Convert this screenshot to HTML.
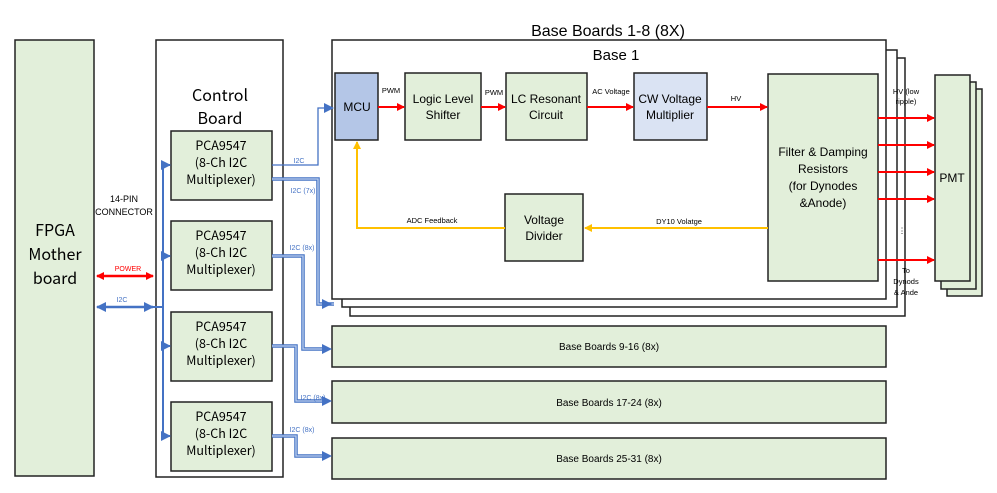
<!DOCTYPE html>
<html><head><meta charset="utf-8"><style>
html,body{margin:0;padding:0;background:#fff;}
svg{display:block;}
.c{font-family:"Liberation Sans",sans-serif;}
.k{font-family:"WenQuanYi Zen Hei","Noto Sans CJK SC",sans-serif;}
</style></head><body>
<svg width="997" height="493" viewBox="0 0 997 493" xmlns="http://www.w3.org/2000/svg">
<defs>
<marker id="ar" markerWidth="8" markerHeight="8" refX="7" refY="4" orient="auto" markerUnits="userSpaceOnUse"><path d="M0,0 L8,4 L0,8 z" fill="#ff0000"/></marker>
<marker id="ars" markerWidth="8" markerHeight="8" refX="1" refY="4" orient="auto" markerUnits="userSpaceOnUse"><path d="M8,0 L0,4 L8,8 z" fill="#ff0000"/></marker>
<marker id="ab" markerWidth="10" markerHeight="10" refX="9" refY="5" orient="auto" markerUnits="userSpaceOnUse"><path d="M0,0 L10,5 L0,10 z" fill="#4472c4"/></marker>
<marker id="abs" markerWidth="10" markerHeight="10" refX="1" refY="5" orient="auto" markerUnits="userSpaceOnUse"><path d="M10,0 L0,5 L10,10 z" fill="#4472c4"/></marker>
<marker id="ay" markerWidth="8" markerHeight="8" refX="7" refY="4" orient="auto" markerUnits="userSpaceOnUse"><path d="M0,0 L8,4 L0,8 z" fill="#ffc000"/></marker>
</defs>
<rect width="997" height="493" fill="#fff"/>
<!-- FPGA -->
<rect x="15" y="40" width="79" height="436" fill="#e2efda" stroke="#222" stroke-width="1.5"/>
<text class="k" font-size="16" text-anchor="middle"><tspan x="55" y="236">FPGA</tspan><tspan x="55" y="260">Mother</tspan><tspan x="55" y="284">board</tspan></text>
<!-- control board -->
<rect x="156" y="40" width="127" height="437" fill="#fff" stroke="#222" stroke-width="1.5"/>
<text class="k" font-size="16" text-anchor="middle"><tspan x="220" y="101">Control</tspan><tspan x="220" y="124">Board</tspan></text>
<text class="c" font-size="9" text-anchor="middle"><tspan x="124" y="202">14-PIN</tspan><tspan x="124" y="215">CONNECTOR</tspan></text>
<g class="k" font-size="12.5" text-anchor="middle">
<rect x="171" y="131" width="101" height="69" fill="#e2efda" stroke="#222" stroke-width="1.5"/>
<text><tspan x="221" y="150">PCA9547</tspan><tspan x="221" y="167">(8-Ch I2C</tspan><tspan x="221" y="184">Multiplexer)</tspan></text>
<rect x="171" y="221" width="101" height="69" fill="#e2efda" stroke="#222" stroke-width="1.5"/>
<text><tspan x="221" y="240">PCA9547</tspan><tspan x="221" y="257">(8-Ch I2C</tspan><tspan x="221" y="274">Multiplexer)</tspan></text>
<rect x="171" y="312" width="101" height="69" fill="#e2efda" stroke="#222" stroke-width="1.5"/>
<text><tspan x="221" y="331">PCA9547</tspan><tspan x="221" y="348">(8-Ch I2C</tspan><tspan x="221" y="365">Multiplexer)</tspan></text>
<rect x="171" y="402" width="101" height="69" fill="#e2efda" stroke="#222" stroke-width="1.5"/>
<text><tspan x="221" y="421">PCA9547</tspan><tspan x="221" y="438">(8-Ch I2C</tspan><tspan x="221" y="455">Multiplexer)</tspan></text>
</g>
<!-- power / i2c -->
<line x1="97" y1="276" x2="153" y2="276" stroke="#ff0000" stroke-width="2.5" marker-end="url(#ar)" marker-start="url(#ars)"/>
<text class="c" font-size="7" fill="#ff0000" x="128" y="271" text-anchor="middle">POWER</text>
<line x1="97" y1="307" x2="153" y2="307" stroke="#4472c4" stroke-width="2.5" marker-end="url(#ab)" marker-start="url(#abs)"/>
<text class="c" font-size="7" fill="#4472c4" x="122" y="302" text-anchor="middle">I2C</text>
<path d="M153,307 H163" stroke="#4472c4" stroke-width="2"/>
<line x1="163" y1="163" x2="163" y2="437" stroke="#4472c4" stroke-width="2"/>
<g stroke="#4472c4" stroke-width="2">
<line x1="163" y1="165" x2="170" y2="165" marker-end="url(#ab)"/>
<line x1="163" y1="256" x2="170" y2="256" marker-end="url(#ab)"/>
<line x1="163" y1="346" x2="170" y2="346" marker-end="url(#ab)"/>
<line x1="163" y1="436" x2="170" y2="436" marker-end="url(#ab)"/>
</g>
<!-- base stacks -->
<polyline points="350,307 350,316 905,316 905,58 886,58" fill="#fff" stroke="#222" stroke-width="1.5"/>
<polyline points="342,299 342,307 897,307 897,50 886,50" fill="#fff" stroke="#222" stroke-width="1.5"/>
<rect x="332" y="40" width="554" height="259" fill="#fff" stroke="#222" stroke-width="1.5"/>
<text class="c" font-size="16" x="608" y="36" text-anchor="middle">Base Boards 1-8 (8X)</text>
<text class="c" font-size="15" x="616" y="60" text-anchor="middle">Base 1</text>
<!-- blocks -->
<g class="c" font-size="12" text-anchor="middle">
<rect x="335" y="73" width="43" height="67" fill="#b4c6e7" stroke="#222" stroke-width="1.5"/>
<text x="357" y="111">MCU</text>
<rect x="405" y="73" width="76" height="67" fill="#e2efda" stroke="#222" stroke-width="1.5"/>
<text><tspan x="443" y="103">Logic Level</tspan><tspan x="443" y="119">Shifter</tspan></text>
<rect x="506" y="73" width="81" height="67" fill="#e2efda" stroke="#222" stroke-width="1.5"/>
<text><tspan x="546" y="103">LC Resonant</tspan><tspan x="546" y="119">Circuit</tspan></text>
<rect x="634" y="73" width="73" height="67" fill="#dae3f3" stroke="#222" stroke-width="1.5"/>
<text><tspan x="670" y="103">CW Voltage</tspan><tspan x="670" y="119">Multiplier</tspan></text>
<rect x="505" y="194" width="78" height="67" fill="#e2efda" stroke="#222" stroke-width="1.5"/>
<text><tspan x="544" y="224">Voltage</tspan><tspan x="544" y="240">Divider</tspan></text>
<rect x="768" y="74" width="110" height="207" fill="#e2efda" stroke="#222" stroke-width="1.5"/>
<text><tspan x="823" y="156">Filter &amp; Damping</tspan><tspan x="823" y="173">Resistors</tspan><tspan x="823" y="190">(for Dynodes</tspan><tspan x="823" y="207">&amp;Anode)</tspan></text>
</g>
<g stroke="#ff0000" stroke-width="2">
<line x1="378" y1="107" x2="404" y2="107" marker-end="url(#ar)"/>
<line x1="481" y1="107" x2="505" y2="107" marker-end="url(#ar)"/>
<line x1="587" y1="107" x2="633" y2="107" marker-end="url(#ar)"/>
<line x1="707" y1="107" x2="767" y2="107" marker-end="url(#ar)"/>
</g>
<g class="c" font-size="7.5" text-anchor="middle">
<text x="391" y="93">PWM</text><text x="494" y="95">PWM</text><text x="611" y="94">AC Voltage</text><text x="736" y="101">HV</text>
<text x="432" y="223">ADC Feedback</text><text x="679" y="224">DY10 Volatge</text>
</g>
<polyline points="768,228 585,228" fill="none" stroke="#ffc000" stroke-width="2" marker-end="url(#ay)"/>
<polyline points="505,228 357,228 357,142" fill="none" stroke="#ffc000" stroke-width="2" marker-end="url(#ay)"/>
<!-- PMT -->
<rect x="947" y="89" width="35" height="207" fill="#e2efda" stroke="#222" stroke-width="1.5"/>
<rect x="941" y="82" width="35" height="207" fill="#e2efda" stroke="#222" stroke-width="1.5"/>
<rect x="935" y="75" width="35" height="206" fill="#e2efda" stroke="#222" stroke-width="1.5"/>
<text class="c" font-size="12" x="952" y="182" text-anchor="middle">PMT</text>
<g stroke="#ff0000" stroke-width="2">
<line x1="878" y1="118" x2="934" y2="118" marker-end="url(#ar)"/>
<line x1="878" y1="145" x2="934" y2="145" marker-end="url(#ar)"/>
<line x1="878" y1="172" x2="934" y2="172" marker-end="url(#ar)"/>
<line x1="878" y1="199" x2="934" y2="199" marker-end="url(#ar)"/>
<line x1="878" y1="260" x2="934" y2="260" marker-end="url(#ar)"/>
</g>
<g class="c" font-size="7.5" text-anchor="middle">
<text x="906" y="94">HV (low</text><text x="906" y="104">ripple)</text>
<text x="902" y="233">⋮</text>
<text x="906" y="273">To</text><text x="906" y="284">Dynods</text><text x="906" y="295">&amp; Ande</text>
</g>
<!-- other base boards -->
<g class="c" font-size="10" text-anchor="middle">
<rect x="332" y="326" width="554" height="41" fill="#e2efda" stroke="#222" stroke-width="1.5"/>
<text x="609" y="350">Base Boards 9-16 (8x)</text>
<rect x="332" y="381" width="554" height="42" fill="#e2efda" stroke="#222" stroke-width="1.5"/>
<text x="609" y="406">Base Boards 17-24 (8x)</text>
<rect x="332" y="438" width="554" height="41" fill="#e2efda" stroke="#222" stroke-width="1.5"/>
<text x="609" y="462">Base Boards 25-31 (8x)</text>
</g>
<!-- I2C links -->
<polyline points="272,165 318,165 318,108 333,108" fill="none" stroke="#4472c4" stroke-width="1.3" marker-end="url(#ab)"/>
<g fill="none" stroke-width="3.5">
<polyline points="272,179 318,179 318,304 334,304" stroke="#4472c4"/>
<polyline points="272,256 303,256 303,349 324,349" stroke="#4472c4"/>
<polyline points="272,346 296,346 296,401 324,401" stroke="#4472c4"/>
<polyline points="272,436 296,436 296,456 324,456" stroke="#4472c4"/>
</g>
<g fill="none" stroke-width="1.3">
<polyline points="272,179 318,179 318,304 334,304" stroke="#bdd0ee"/>
<polyline points="272,256 303,256 303,349 324,349" stroke="#bdd0ee"/>
<polyline points="272,346 296,346 296,401 324,401" stroke="#bdd0ee"/>
<polyline points="272,436 296,436 296,456 324,456" stroke="#bdd0ee"/>
</g>
<g fill="#4472c4">
<path d="M332,304 L322,299 L322,309 z"/><path d="M332,349 L322,344 L322,354 z"/>
<path d="M332,401 L322,396 L322,406 z"/><path d="M332,456 L322,451 L322,461 z"/>
</g>
<g class="c" font-size="7" fill="#4472c4" text-anchor="middle">
<text x="299" y="163">I2C</text><text x="303" y="193">I2C (7x)</text><text x="302" y="250">I2C (8x)</text>
<text x="313" y="400">I2C (8x)</text><text x="302" y="432">I2C (8x)</text>
</g>
</svg>
</body></html>
